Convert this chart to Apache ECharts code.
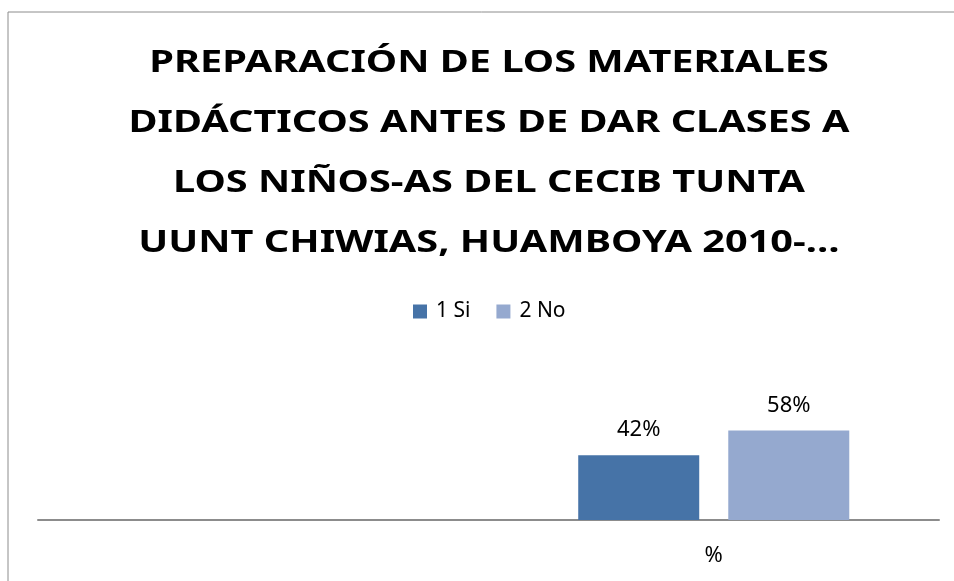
<!DOCTYPE html>
<html>
<head>
<meta charset="utf-8">
<script src="https://cdn.jsdelivr.net/npm/echarts@6/dist/echarts.min.js"></script>
<style>
  html, body { margin: 0; padding: 0; background: #fff; }
  #chart { width: 954px; height: 581px; }
</style>
</head>
<body>
<div id="chart"></div>
<script>
// categories and series
var categories = ['', '%'];
var seriesNames = ['1 Si', '2 No'];
var siValues = [null, 42];
var noValues = [null, 58];
var titleLines = [
  'PREPARACIÓN DE LOS MATERIALES',
  'DIDÁCTICOS ANTES DE DAR CLASES A',
  'LOS NIÑOS-AS DEL CECIB TUNTA',
  'UUNT CHIWIAS, HUAMBOYA 2010-…'
];

var font = "'Noto Sans', 'Liberation Sans', sans-serif";
var chart = echarts.init(document.getElementById('chart'));

var labelOpt = {
  show: true, position: 'top', distance: 14,
  color: '#000', fontFamily: font, fontSize: 22,
  formatter: function(p) { return p.value + '%'; }
};

// title drawn as wide text lines (the original is stretched sideways)
var graphics = [{
  type: 'rect',
  shape: { x: 8, y: 12, width: 1000, height: 700 },
  style: { fill: 'none', stroke: '#8c8c8c', lineWidth: 1 },
  silent: true, z: -1
}];
titleLines.forEach(function(line, i) {
  graphics.push({
    type: 'text',
    x: 489, y: 63 + i * 60,
    scaleX: 1.28,
    style: {
      text: line, x: 0, y: 0,
      align: 'center', verticalAlign: 'middle',
      font: 'bold 31px ' + font, fill: '#000'
    }
  });
});

chart.setOption({
  animation: false,
  graphic: graphics,
  legend: {
    data: seriesNames,
    top: 296, left: 408,
    itemWidth: 14, itemHeight: 14, itemGap: 26,
    icon: 'rect',
    textStyle: { fontFamily: font, fontSize: 21, color: '#000', padding: [0, 0, 0, 4] }
  },
  grid: { left: 38, right: 15, top: 412, bottom: 61 },
  xAxis: {
    type: 'category',
    data: categories,
    axisLine: { lineStyle: { color: '#8c8c8c', width: 2 } },
    axisTick: { show: false },
    axisLabel: { fontFamily: font, fontSize: 22, color: '#000', margin: 25 }
  },
  yAxis: {
    type: 'value', min: 0, max: 70, interval: 10,
    show: false
  },
  series: [{
    name: seriesNames[0], type: 'bar', data: siValues,
    barWidth: 121, barGap: '24%',
    itemStyle: { color: '#4673a7' },
    label: labelOpt
  }, {
    name: seriesNames[1], type: 'bar', data: noValues,
    barWidth: 121,
    itemStyle: { color: '#95a9cf' },
    label: labelOpt
  }]
});
</script>
</body>
</html>
